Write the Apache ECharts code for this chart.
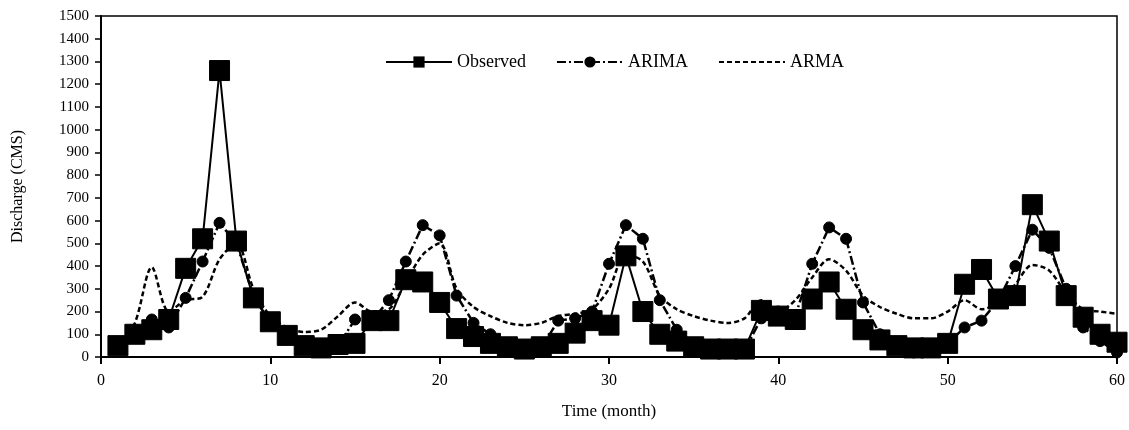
<!DOCTYPE html>
<html>
<head>
<meta charset="utf-8">
<script src="https://cdn.jsdelivr.net/npm/echarts@6/dist/echarts.min.js"></script>
<style>
html,body{margin:0;padding:0;background:#fff;}
#c{width:1129px;height:430px;}
</style>
</head>
<body>
<div id="c"></div>
<script>
const months = Array.from({length: 60}, (_, i) => i + 1);
const observed = [50,100,120,165,390,520,1260,510,260,155,95,50,40,55,60,160,160,340,330,240,125,90,60,45,35,45,60,105,160,140,445,200,100,70,45,35,35,35,205,180,165,255,330,210,120,75,50,40,40,60,320,385,255,270,670,510,270,175,100,65];
const arima = [50,100,165,130,260,420,590,500,270,150,100,40,30,50,165,160,250,420,580,535,270,150,100,60,20,40,160,170,200,410,580,520,250,120,60,40,20,30,170,200,180,410,570,520,240,100,60,20,30,60,130,160,250,400,560,480,300,130,70,20];
const arma = [50,150,395,200,250,265,430,500,300,180,130,110,120,180,240,200,210,330,450,500,300,220,180,150,140,150,180,190,210,300,450,420,270,210,180,160,150,170,250,200,250,350,430,380,270,220,190,170,170,200,250,210,240,320,405,380,280,210,200,190];
const yTicks = [0,100,200,300,400,500,600,700,800,900,1000,1100,1200,1300,1400,1500];

const pair = arr => arr.map((v, i) => [months[i], v]);
const serif = '"Liberation Serif", "DejaVu Serif", serif';

const chart = echarts.init(document.getElementById('c'), null, {renderer: 'canvas'});
chart.setOption({
  animation: false,
  backgroundColor: '#fff',
  textStyle: {fontFamily: serif, color: '#000'},
  grid: {left: 101, right: 12, top: 16, bottom: 73, show: true, borderColor: '#000', borderWidth: 1.5, backgroundColor: 'transparent'},
  legend: {
    top: 48, left: 380,
    itemGap: 30, itemWidth: 66, itemHeight: 14,
    textStyle: {fontFamily: serif, fontSize: 18, color: '#000'},
    data: ['Observed', 'ARIMA', {name: 'ARMA', itemStyle: {opacity: 0}}]
  },
  xAxis: {
    type: 'value', min: 0, max: 60, interval: 10,
    name: 'Time (month)', nameLocation: 'middle', nameGap: 46,
    nameTextStyle: {fontFamily: serif, fontSize: 17, color: '#000'},
    axisLine: {lineStyle: {color: '#000', width: 2}},
    axisTick: {show: true, inside: false, length: 7, lineStyle: {color: '#000', width: 2}},
    axisLabel: {fontFamily: serif, fontSize: 16, color: '#000', margin: 16},
    splitLine: {show: false}
  },
  yAxis: {
    type: 'value', min: 0, max: 1500, interval: 100,
    name: 'Discharge (CMS)', nameLocation: 'middle', nameGap: 75, nameRotate: 90,
    nameTextStyle: {fontFamily: serif, fontSize: 16, color: '#000'},
    axisLine: {show: true, lineStyle: {color: '#000', width: 2}},
    axisTick: {show: true, inside: false, length: 6, lineStyle: {color: '#000', width: 1.5}},
    axisLabel: {fontFamily: serif, fontSize: 15, color: '#000', margin: 12,
      formatter: v => yTicks.includes(v) ? String(v) : ''},
    splitLine: {show: false}
  },
  series: [
    {
      name: 'Observed', type: 'line', data: pair(observed),
      symbol: 'rect', symbolSize: 20, showAllSymbol: true,
      lineStyle: {color: '#000', width: 2, type: 'solid'},
      itemStyle: {color: '#000', borderColor: '#000'},
      z: 3
    },
    {
      name: 'ARIMA', type: 'line', data: pair(arima),
      symbol: 'circle', symbolSize: 11, showAllSymbol: true,
      lineStyle: {color: '#000', width: 2.5, type: [9, 3, 2, 3]},
      itemStyle: {color: '#000', borderColor: '#000'},
      z: 2
    },
    {
      name: 'ARMA', type: 'line', data: pair(arma), smooth: 0.3,
      symbol: 'none',
      lineStyle: {color: '#000', width: 2.5, type: [5, 3]},
      itemStyle: {color: '#000'},
      z: 1
    }
  ]
});
</script>
</body>
</html>
